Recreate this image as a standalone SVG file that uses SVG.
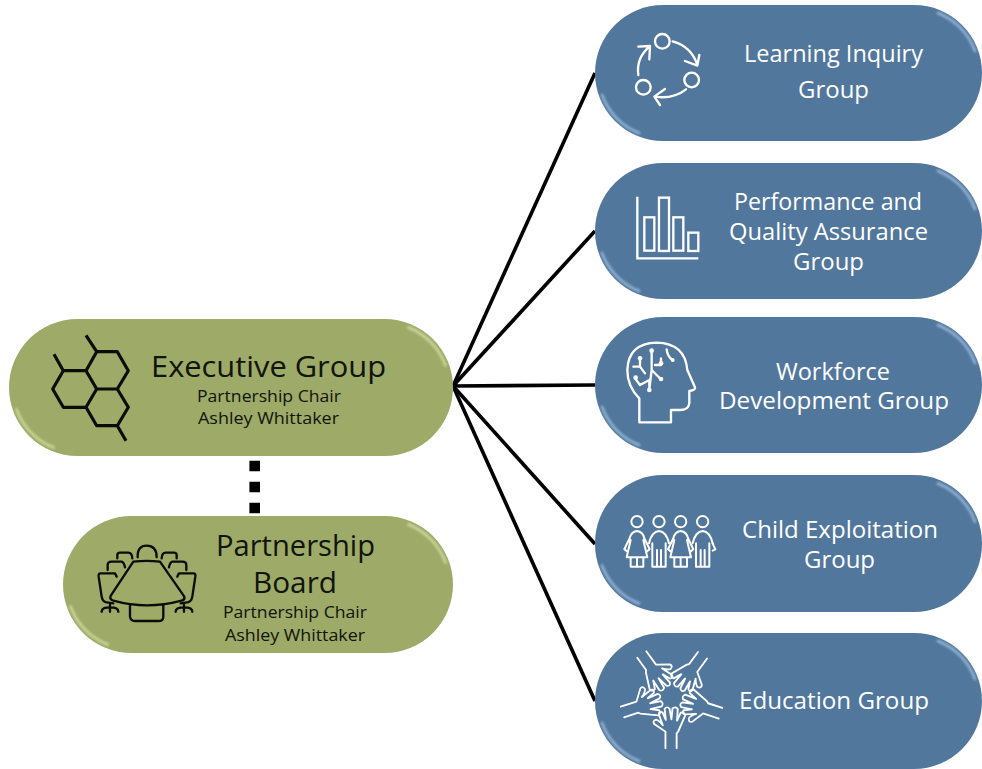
<svg xmlns="http://www.w3.org/2000/svg" width="982" height="769" viewBox="0 0 982 769">
<style>
text{font-family:"Open Sans","Noto Sans","Liberation Sans",sans-serif}
.w{fill:#fff;font-size:23px;font-weight:400}
.k{fill:#10140a;font-size:29px;font-weight:400}
.s{fill:#10140a;font-size:17px;font-weight:400}
.g{fill:#9daa68}
.b{fill:#52779c}
.hg{fill:none;stroke:#d6e0a4;stroke-width:3;filter:url(#bl);stroke-linecap:round;opacity:.75}
.hb{fill:none;stroke:#9fc0e2;stroke-width:3;filter:url(#bl);stroke-linecap:round;opacity:.75}
.tb{stroke:#7fa0c2;stroke-width:2.500;filter:url(#bl);opacity:.5;fill:none}
.tg{stroke:#bcc88a;stroke-width:2.500;filter:url(#bl);opacity:.5;fill:none}
.ib{fill:none;stroke:#fff;stroke-width:7;stroke-linecap:round;stroke-linejoin:round}
.ik{fill:none;stroke:#0a0d05;stroke-width:7;stroke-linecap:round;stroke-linejoin:round}
.c{stroke:#000;stroke-width:3.600;fill:none}
</style>
<defs>
<filter id="bl" x="-20%" y="-20%" width="140%" height="140%"><feGaussianBlur stdDeviation="1.100"/></filter>
<path id="bl-arc" d="M-61,22A65,65 0 0 0 -24,60"/>
<path id="tr-arc" d="M24,-60A65,65 0 0 1 61,-22"/>
<path id="hand" d="M228,395V345L198,322Q192,312 204,309Q212,312 221,326L210,293Q210,282 220,287L229,310L226,277Q232,267 239,276L244,308L247,275Q255,268 261,277L259,312L269,288Q279,285 281,296L262,345L258,350V395"/>
<g id="girl"><circle cx="0" cy="0" r="17"/><path d="M-22,50Q-18,30 0,28Q18,30 22,50L38,83L29,90M-22,50L-38,83L-29,90M-19,55L-31,107H31L19,55M-19,107V135H19V107M0,107V135"/></g>
<g id="boy"><circle cx="0" cy="0" r="17"/><path d="M-20,135V65M20,135V65M-20,135H20M-6,85V135H6V85M-30,65Q-22,30 0,28Q22,30 30,65"/></g>
</defs>
<g id="connectors">
<line class="c" x1="453" y1="386" x2="595" y2="73"/>
<line class="c" x1="453" y1="386" x2="595" y2="231"/>
<line class="c" x1="453" y1="386" x2="595" y2="385"/>
<line class="c" x1="453" y1="386" x2="595" y2="544"/>
<line class="c" x1="453" y1="386" x2="595" y2="701"/>
<line x1="254.700" y1="460.700" x2="254.700" y2="513.500" stroke="#000" stroke-width="10.600" stroke-dasharray="10.600 10.400"/>
</g>
<g id="executive-group">
<rect class="g" x="9" y="319" width="444" height="137" rx="68.500"/>
<path class="tg" d="M70,321H390"/>
<use class="hg" href="#bl-arc" x="77.500" y="387.500"/><use class="hg" href="#tr-arc" x="384.500" y="387.500"/>
<path class="ik" style="stroke-width:3.200;stroke-linecap:butt" d="M96.700,351.700H117.300L128.300,370.700L117.300,389H96.700L86,370.700ZM86,370.700H63.300L52.700,389L63.300,407.300H86L96.700,389M86,407.300L96.700,425.700H117.300L128.300,407.300L117.300,389M96.700,351.700L86,335.300M63.300,370.700L54,354.300M117.300,425.700L126,440.700"/>
<text class="k" x="151" y="377" textLength="235" lengthAdjust="spacingAndGlyphs">Executive Group</text>
<text class="s" x="197" y="402" textLength="144" lengthAdjust="spacingAndGlyphs">Partnership Chair</text>
<text class="s" x="198" y="424" textLength="141" lengthAdjust="spacingAndGlyphs">Ashley Whittaker</text>
</g>
<g id="partnership-board">
<rect class="g" x="63" y="516" width="390" height="137" rx="68.500"/>
<path class="tg" d="M124,518H390"/>
<use class="hg" href="#bl-arc" x="131.500" y="584.500"/><use class="hg" href="#tr-arc" x="384.500" y="584.500"/>
<g transform="translate(0,310) scale(0.3333)" class="ik">
<path d="M400,755Q440,750 480,755L553,860Q555,870 545,872Q440,900 340,872Q328,868 332,858ZM413,742Q412,707 440,707Q470,707 470,742M390,885V920Q392,933 405,933H475Q490,933 490,920V885"/>
<g id="chairs"><path d="M352,745V735Q352,728 360,728H385Q396,728 397,745M323,780V765Q323,755 335,755H365Q372,757 375,772M350,800L345,790H300Q295,790 296,800L305,860Q308,878 325,878L340,880M305,905Q305,892 330,892Q355,892 355,905M330,885V905"/></g>
<use href="#chairs" transform="translate(882,0) scale(-1,1)"/>
</g>
<text class="k" x="216" y="556" textLength="159" lengthAdjust="spacingAndGlyphs">Partnership</text>
<text class="k" x="253" y="593" textLength="84" lengthAdjust="spacingAndGlyphs">Board</text>
<text class="s" x="223" y="618" textLength="144" lengthAdjust="spacingAndGlyphs">Partnership Chair</text>
<text class="s" x="225" y="641" textLength="140" lengthAdjust="spacingAndGlyphs">Ashley Whittaker</text>
</g>
<g id="learning-inquiry-group">
<rect class="b" x="595" y="5" width="387" height="136" rx="68"/>
<path class="tb" d="M655,7H920"/>
<use class="hb" href="#bl-arc" x="663" y="73"/><use class="hb" href="#tr-arc" x="914" y="73"/>
<g transform="translate(590,0) scale(0.3333)" class="ib">
<circle cx="217" cy="124" r="22"/><circle cx="305" cy="240" r="22"/><circle cx="160" cy="262" r="22"/>
<path d="M248,124Q305,140 322,195M285,183L322,197L328,165M288,268Q250,298 195,290M225,267L193,290L210,315M145,225Q138,175 178,140M145,140L180,138L178,178"/>
</g>
<text class="w" x="744" y="62" textLength="179" lengthAdjust="spacingAndGlyphs">Learning Inquiry</text>
<text class="w" x="798" y="98" textLength="71" lengthAdjust="spacingAndGlyphs">Group</text>
</g>
<g id="performance-quality-group">
<rect class="b" x="595" y="163" width="387" height="136" rx="68"/>
<path class="tb" d="M655,165H920"/>
<use class="hb" href="#bl-arc" x="663" y="231"/><use class="hb" href="#tr-arc" x="914" y="231"/>
<g transform="translate(590,0) scale(0.3333)" class="ib" style="stroke-linecap:butt;stroke-linejoin:miter">
<path d="M142,590V775H325"/>
<rect x="163" y="652" width="30" height="100"/><rect x="207" y="593" width="30" height="160"/><rect x="250" y="652" width="30" height="100"/><rect x="295" y="698" width="30" height="55"/>
</g>
<text class="w" x="734" y="210" textLength="188" lengthAdjust="spacingAndGlyphs">Performance and</text>
<text class="w" x="729" y="240" textLength="199" lengthAdjust="spacingAndGlyphs">Quality Assurance</text>
<text class="w" x="793" y="270" textLength="71" lengthAdjust="spacingAndGlyphs">Group</text>
</g>
<g id="workforce-development-group">
<rect class="b" x="595" y="317" width="387" height="136" rx="68"/>
<path class="tb" d="M655,319H920"/>
<use class="hb" href="#bl-arc" x="663" y="385"/><use class="hb" href="#tr-arc" x="914" y="385"/>
<g transform="translate(590,310) scale(0.3333)" class="ib">
<path d="M148,337V265Q112,230 112,180Q115,100 200,98Q285,100 292,180L315,232Q318,240 298,243V280Q295,300 270,300H243V337Z"/>
<path d="M185,122V180L212,207M185,180L178,238V210L150,225L135,205M150,145V170H130M150,170L165,190M195,165H213V145M230,118Q232,140 248,150"/>
<g style="fill:#fff;stroke:none"><circle cx="185" cy="122" r="7"/><circle cx="150" cy="145" r="7"/><circle cx="213" cy="207" r="7"/><circle cx="178" cy="240" r="7"/><circle cx="137" cy="203" r="7"/><circle cx="213" cy="160" r="7"/><circle cx="248" cy="150" r="6"/></g>
</g>
<text class="w" x="776" y="380" textLength="114" lengthAdjust="spacingAndGlyphs">Workforce</text>
<text class="w" x="719" y="409" textLength="230" lengthAdjust="spacingAndGlyphs">Development Group</text>
</g>
<g id="child-exploitation-group">
<rect class="b" x="595" y="475" width="387" height="137" rx="68"/>
<path class="tb" d="M655,477H920"/>
<use class="hb" href="#bl-arc" x="663" y="543.500"/><use class="hb" href="#tr-arc" x="914" y="543.500"/>
<g transform="translate(590,310) scale(0.3333)" class="ib" style="stroke-width:6">
<use href="#girl" x="141" y="635"/><use href="#boy" x="207" y="635"/><use href="#girl" x="272" y="635"/><use href="#boy" x="338" y="635"/>
<path d="M368,700L376,718L368,722"/>
</g>
<text class="w" x="742" y="538" textLength="196" lengthAdjust="spacingAndGlyphs">Child Exploitation</text>
<text class="w" x="804" y="568" textLength="71" lengthAdjust="spacingAndGlyphs">Group</text>
</g>
<g id="education-group">
<rect class="b" x="595" y="633" width="387" height="136" rx="68"/>
<path class="tb" d="M655,635H920"/>
<use class="hb" href="#bl-arc" x="663" y="701"/><use class="hb" href="#tr-arc" x="914" y="701"/>
<g transform="translate(590,620) scale(0.3333)" class="ib" style="stroke-width:5">
<use href="#hand" transform="translate(-29,-10) scale(1.12,1)"/>
<use href="#hand" transform="rotate(72 245 230) translate(-29,-10) scale(1.12,1)"/>
<use href="#hand" transform="rotate(144 245 230) translate(-29,-10) scale(1.12,1)"/>
<use href="#hand" transform="rotate(216 245 230) translate(-29,-10) scale(1.12,1)"/>
<use href="#hand" transform="rotate(288 245 230) translate(-29,-10) scale(1.12,1)"/>
</g>
<text class="w" x="739" y="709" textLength="190" lengthAdjust="spacingAndGlyphs">Education Group</text>
</g>
</svg>
